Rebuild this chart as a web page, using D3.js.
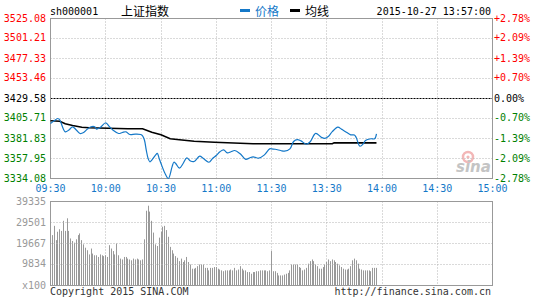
<!DOCTYPE html>
<html><head><meta charset="utf-8">
<script src="https://cdn.jsdelivr.net/npm/d3@7"></script>
<style>body{margin:0;background:#fff}svg{display:block}</style>
</head><body><svg id="c" width="545" height="300"></svg>
<script>
// ---- data ----
const priceTimes = ["09:30","09:32","09:34","09:35","09:38","09:40","09:42","09:44","09:46","09:48","09:50","09:52","09:54","09:55","09:57","10:00","10:02","10:04","10:07","10:09","10:11","10:13","10:16","10:19","10:20","10:21","10:22","10:23","10:24","10:25","10:27","10:28","10:29","10:30","10:32","10:34","10:36","10:37","10:38","10:40","10:42","10:44","10:46","10:48","10:51","10:53","10:56","10:58","11:00","11:02","11:04","11:06","11:08","11:10","11:13","11:16","11:18","11:20","11:23","11:26","11:29","13:00","13:02","13:05","13:07","13:10","13:12","13:14","13:16","13:19","13:21","13:24","13:27","13:29","13:31","13:33","13:36","13:38","13:40","13:43","13:45","13:46","13:48","13:50","13:51","13:54","13:56","13:57"];
const priceValues = [3399.7,3403.0,3405.7,3404.0,3389.8,3392.0,3395.8,3392.0,3387.8,3389.0,3393.0,3395.8,3395.8,3393.0,3395.0,3400.6,3396.0,3391.7,3387.8,3389.0,3389.8,3386.6,3387.0,3386.6,3385.0,3380.0,3368.0,3358.0,3354.0,3356.0,3362.0,3364.0,3358.0,3352.0,3341.0,3334.1,3348.0,3353.5,3352.0,3346.4,3352.0,3358.8,3355.0,3354.4,3360.7,3358.0,3353.5,3358.0,3361.5,3366.0,3368.3,3364.7,3366.0,3367.5,3363.6,3357.0,3358.5,3360.0,3358.3,3362.0,3369.5,3369.5,3369.0,3367.5,3366.7,3369.5,3378.3,3380.5,3379.0,3375.0,3378.0,3388.0,3383.4,3382.0,3384.5,3390.0,3395.3,3393.0,3390.3,3386.2,3386.0,3383.0,3372.6,3376.0,3379.5,3381.5,3381.5,3387.4];
const avgTimes = ["09:30","09:35","09:38","09:42","09:47","09:51","10:12","10:20","10:25","10:30","10:35","10:40","10:48","10:59","11:20","11:29","13:00","13:33","13:34","13:57"];
const avgValues = [3403.0,3402.5,3399.4,3397.3,3395.3,3394.6,3393.4,3393.4,3389.4,3386.2,3381.5,3380.3,3378.6,3377.4,3375.5,3375.5,3375.5,3375.5,3376.6,3376.6];
// volume per minute from 09:30 (units of x100)
const volumeValues = [24390,23600,27930,21240,25170,26350,25570,30290,25570,31470,25570,
22030,20850,20060,21630,23600,24390,21240,
19270,17700,16520,14550,17310,14950,14160,14160,13370,14550,14160,13770,
14160,13370,18880,17310,16130,14550,19670,14160,12590,12190,13370,13370,
12590,12190,11800,12590,12190,12590,12190,11800,12190,21630,35010,37370,34610,
30290,24780,19270,18490,22420,25170,27530,27930,25960,22810,18090,16520,14950,13770,12980,11410,12590,11010,11800,13370,11010,9830,7870,7870,8260,9050,9830,9830,9830,8260,8260,7080,8260,8260,8650,8650,7870,7470,7080,6690,7080,7080,7080,7470,7080,8260,7080,7470,9050,7870,7080,7080,6290,6290,5510,6290,6290,6690,6690,7080,7080,7080,7080,6690,7080,
16130,6690,6690,5900,4720,4720,4720,5110,5510,5900,7080,9830,9830,9830,9830,8650,8260,7080,7470,8260,10230,11410,12190,11410,9830,9050,7870,7870,8650,9830,11010,12190,11410,12190,11800,11010,10230,9440,8650,7870,7470,7470,7870,9050,11800,12590,11800,10230,7870,7470,7080,7080,7080,7080,6690,8260,8260,8260];
const priceTicks = [3525.08,3501.21,3477.33,3453.46,3429.58,3405.71,3381.83,3357.95,3334.08];
const pctTicks = ["+2.78%","+2.09%","+1.39%","+0.70%","0.00%","-0.70%","-1.39%","-2.09%","-2.78%"];
const volTicks = [39335,29501,19667,9834,0];
const volTickLabels = ["39335","29501","19667","9834","x100"];
const timeTicks = ["09:30","10:00","10:30","11:00","11:30","13:30","14:00","14:30","15:00"];
const prevClose = 3429.58;
const symbol = "sh000001", indexName = "上证指数", stamp = "2015-10-27 13:57:00";

// ---- helpers ----
function toIndex(t){const [h,m]=t.split(":").map(Number);const v=h*60+m;return v<=690? v-570 : v-780+120;}
const mono = "'DejaVu Sans Mono', monospace";
const RED="#ff0000", GREEN="#008000", BLUE="#1478c8", GRID="#b4b4b4", BORDER="#999";

const svg = d3.select("#c");
const x = d3.scaleLinear().domain([0,240]).range([50.5,492.5]);
const y = d3.scaleLinear().domain([3334.08,3525.08]).range([178.5,18.5]);
const yv = d3.scaleLinear().domain([0,39335]).range([285.5,201.5]);
const snap = v => Math.floor(v)+0.5;

// ---- header ----
svg.append("text").attr("x",50).attr("y",15).attr("font-family",mono).attr("font-size",10).attr("fill","#000").text(symbol);
svg.append("text").attr("x",121).attr("y",16).attr("font-family","'Noto Sans CJK SC'").attr("font-size",12).attr("fill","#000").text(indexName);
svg.append("rect").attr("x",240).attr("y",9).attr("width",10).attr("height",3).attr("fill",BLUE);
svg.append("text").attr("x",255).attr("y",16).attr("font-family","'Noto Sans CJK SC'").attr("font-size",12).attr("fill",BLUE).text("价格");
svg.append("rect").attr("x",290).attr("y",9).attr("width",10).attr("height",3).attr("fill","#000");
svg.append("text").attr("x",305).attr("y",16).attr("font-family","'Noto Sans CJK SC'").attr("font-size",12).attr("fill","#000").text("均线");
svg.append("text").attr("x",491).attr("y",15).attr("text-anchor","end").attr("font-family",mono).attr("font-size",10).attr("fill","#000").text(stamp);

// ---- watermark ----
const wm = svg.append("g");
wm.append("circle").attr("cx",468).attr("cy",157).attr("r",5).attr("fill","none").attr("stroke","#f3b7b7").attr("stroke-width",2.5);
wm.append("circle").attr("cx",468).attr("cy",157).attr("r",1.6).attr("fill","#f3b7b7");
wm.append("text").attr("x",456).attr("y",172).attr("font-family","'DejaVu Sans'").attr("font-style","italic").attr("font-weight","bold").attr("font-size",15).attr("fill","#c4c4c4").text("sina");

// ---- price panel grid ----
const gp = svg.append("g");
priceTicks.forEach((p,i)=>{
  if(i===0||i===priceTicks.length-1) return;
  const yy = snap(y(p));
  gp.append("line").attr("x1",50.5).attr("x2",492.5).attr("y1",yy).attr("y2",yy)
    .attr("stroke", p===prevClose? "#000":GRID).attr("stroke-dasharray", p===prevClose? "2,1":"1,2");
});
timeTicks.forEach((t,i)=>{
  if(i===0||i===timeTicks.length-1) return;
  const xx = snap(x(toIndex(t)));
  gp.append("line").attr("x1",xx).attr("x2",xx).attr("y1",18.5).attr("y2",178.5).attr("stroke",GRID).attr("stroke-dasharray","1,2");
  gp.append("line").attr("x1",xx).attr("x2",xx).attr("y1",201.5).attr("y2",285.5).attr("stroke",GRID).attr("stroke-dasharray","1,2");
});
svg.append("rect").attr("x",50.5).attr("y",18.5).attr("width",442).attr("height",160).attr("fill","none").attr("stroke",BORDER);

// ---- lines ----
const avgLine = d3.line().x(d=>x(toIndex(d[0]))).y(d=>y(d[1]));
svg.append("path").datum(d3.zip(avgTimes,avgValues)).attr("d",avgLine).attr("fill","none").attr("stroke","#000").attr("stroke-width",1.6);
const priceLine = d3.line().x(d=>x(toIndex(d[0]))).y(d=>y(d[1])).curve(d3.curveCatmullRom.alpha(0.5));
svg.append("path").datum(d3.zip(priceTimes,priceValues)).attr("d",priceLine).attr("fill","none").attr("stroke",BLUE).attr("stroke-width",1.2);

// ---- price axis labels ----
priceTicks.forEach((p,i)=>{
  const col = p>prevClose? RED : (p<prevClose? GREEN : "#000");
  const yy = y(p)+3;
  svg.append("text").attr("x",46).attr("y",yy).attr("text-anchor","end").attr("font-family",mono).attr("font-size",10).attr("fill",col).text(p.toFixed(2));
  svg.append("text").attr("x",494).attr("y",yy).attr("font-family",mono).attr("font-size",10).attr("fill",col).text(pctTicks[i]);
});
timeTicks.forEach(t=>{
  svg.append("text").attr("x",x(toIndex(t))).attr("y",192).attr("text-anchor","middle").attr("font-family",mono).attr("font-size",10).attr("fill",BLUE).text(t);
});

// ---- volume panel ----
const gv = svg.append("g");
gv.selectAll("rect.bar").data(volumeValues).join("rect").attr("class","bar")
  .attr("x",(d,i)=>Math.floor(x(i))).attr("width",1)
  .attr("y",d=>yv(d)).attr("height",d=>285.5-yv(d)).attr("fill","#999");
volTicks.forEach((v,i)=>{
  if(i>0 && i<volTicks.length-1){
    const yy = snap(yv(v));
    gv.append("line").attr("x1",50.5).attr("x2",492.5).attr("y1",yy).attr("y2",yy).attr("stroke",GRID).attr("stroke-dasharray","1,2");
  }
  svg.append("text").attr("x",46).attr("y",yv(v)+3).attr("text-anchor","end").attr("font-family",mono).attr("font-size",10).attr("fill","#999").text(volTickLabels[i]);
});
svg.append("rect").attr("x",50.5).attr("y",201.5).attr("width",442).attr("height",84).attr("fill","none").attr("stroke",BORDER);

// ---- footer ----
svg.append("text").attr("x",50).attr("y",295).attr("font-family",mono).attr("font-size",10).attr("fill","#333").text("Copyright 2015 SINA.COM");
svg.append("text").attr("x",491).attr("y",295).attr("text-anchor","end").attr("font-family",mono).attr("font-size",10).attr("fill","#333").text("http://finance.sina.com.cn");
</script></body></html>
